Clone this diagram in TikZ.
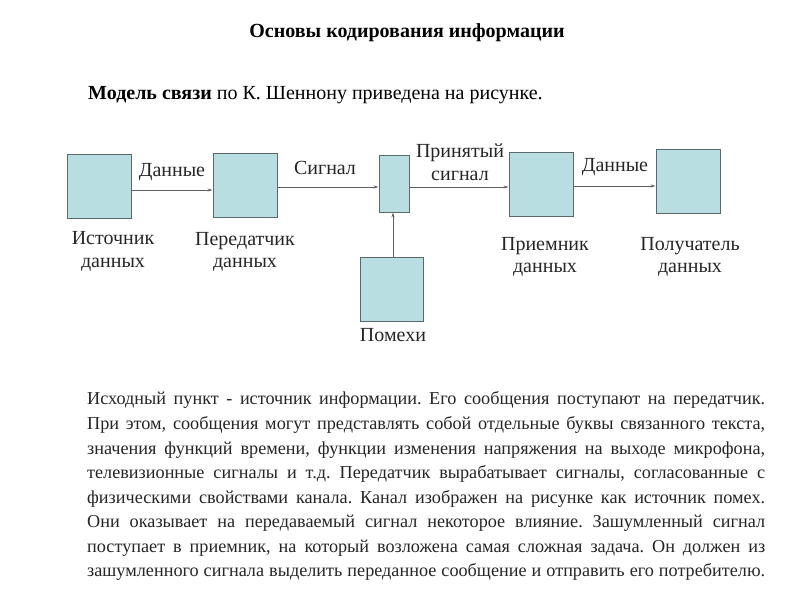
\documentclass[tikz,border=0pt]{standalone}
\usepackage{fontspec}
\setmainfont{Liberation Serif}
\usetikzlibrary{arrows.meta}
\definecolor{boxfill}{RGB}{185,222,226}
\definecolor{boxline}{RGB}{90,105,108}
\definecolor{arrline}{RGB}{95,95,95}
\frenchspacing
\begin{document}
\begin{tikzpicture}[x=1pt,y=1pt,
  blk/.style={draw=boxline,fill=boxfill,line width=0.9pt,minimum width=64pt,minimum height=64pt,inner sep=0pt},
  arr/.style={draw=arrline,line width=0.8pt,-{Stealth[length=5pt,width=3pt]}},
  lbl/.style={font=\fontsize{20}{22.5}\selectfont,align=center,inner sep=0pt,text=black!85},
  para/.style={anchor=base west,inner sep=0pt,font=\fontsize{18.2}{22}\selectfont,text=black!85}]
\useasboundingbox (0,0) rectangle (800,600);
\fill[white] (0,0) rectangle (800,600);
% title
\node[font=\bfseries\fontsize{20}{24}\selectfont,inner sep=0pt] (title) at (407,567) {Основы кодирования информации};
\node[anchor=west,font=\fontsize{20}{24}\selectfont,inner sep=0pt] (model) at (88,505) {\textbf{Модель связи} по К. Шеннону приведена на рисунке.};
% boxes
\node[blk] (src) at (99,414) {};
\node[blk] (tx) at (245,415) {};
\node[blk,minimum width=30pt,minimum height=57pt] (ch) at (394,416.5) {};
\node[blk] (rx) at (541,416) {};
\node[blk] (dst) at (688,419) {};
\node[blk,minimum width=63pt] (noise) at (391.5,311) {};
% arrows
\draw[arr] (src.east |- 0,410) -- (tx.west |- 0,410);
\draw[arr] (tx.east |- 0,413) -- (ch.west |- 0,413);
\draw[arr] (ch.east |- 0,413) -- (rx.west |- 0,413);
\draw[arr] (rx.east |- 0,414) -- (dst.west |- 0,414);
\draw[arr] (noise.north -| 393,0) -- (ch.south -| 393,0);
% labels
\node[lbl] (l1) at (172,428) {Данные};
\node[lbl] (l2) at (325,432) {Сигнал};
\node[lbl] (l3) at (460,437.5) {Принятый\\сигнал};
\node[lbl] (l4) at (615,433) {Данные};
\node[lbl] (n1) at (113,348.5) {Источник\\данных};
\node[lbl] (n2) at (245,348) {Передатчик\\данных};
\node[lbl] (n3) at (545,343) {Приемник\\данных};
\node[lbl] (n4) at (690,343) {Получатель\\данных};
\node[lbl] (n5) at (393,265) {Помехи};
% paragraph
\node[para] (p1) at (87,195) {\makebox[678pt][s]{Исходный пункт - источник информации. Его сообщения поступают на передатчик.}};
\node[para] (p2) at (87,170.5) {\makebox[678pt][s]{При этом, сообщения могут представлять собой отдельные буквы связанного текста,}};
\node[para] (p3) at (87,146) {\makebox[678pt][s]{значения функций времени, функции изменения напряжения на выходе микрофона,}};
\node[para] (p4) at (87,121.5) {\makebox[678pt][s]{телевизионные сигналы и т.д. Передатчик вырабатывает сигналы, согласованные с}};
\node[para] (p5) at (87,97) {\makebox[678pt][s]{физическими свойствами канала. Канал изображен на рисунке как источник помех.}};
\node[para] (p6) at (87,72.5) {\makebox[678pt][s]{Они оказывает на передаваемый сигнал некоторое влияние. Зашумленный сигнал}};
\node[para] (p7) at (87,48) {\makebox[678pt][s]{поступает в приемник, на который возложена самая сложная задача. Он должен из}};
\node[para] (p8) at (87,23.5) {\makebox[678pt][s]{зашумленного сигнала выделить переданное сообщение и отправить его потребителю.}};
\end{tikzpicture}
\end{document}
